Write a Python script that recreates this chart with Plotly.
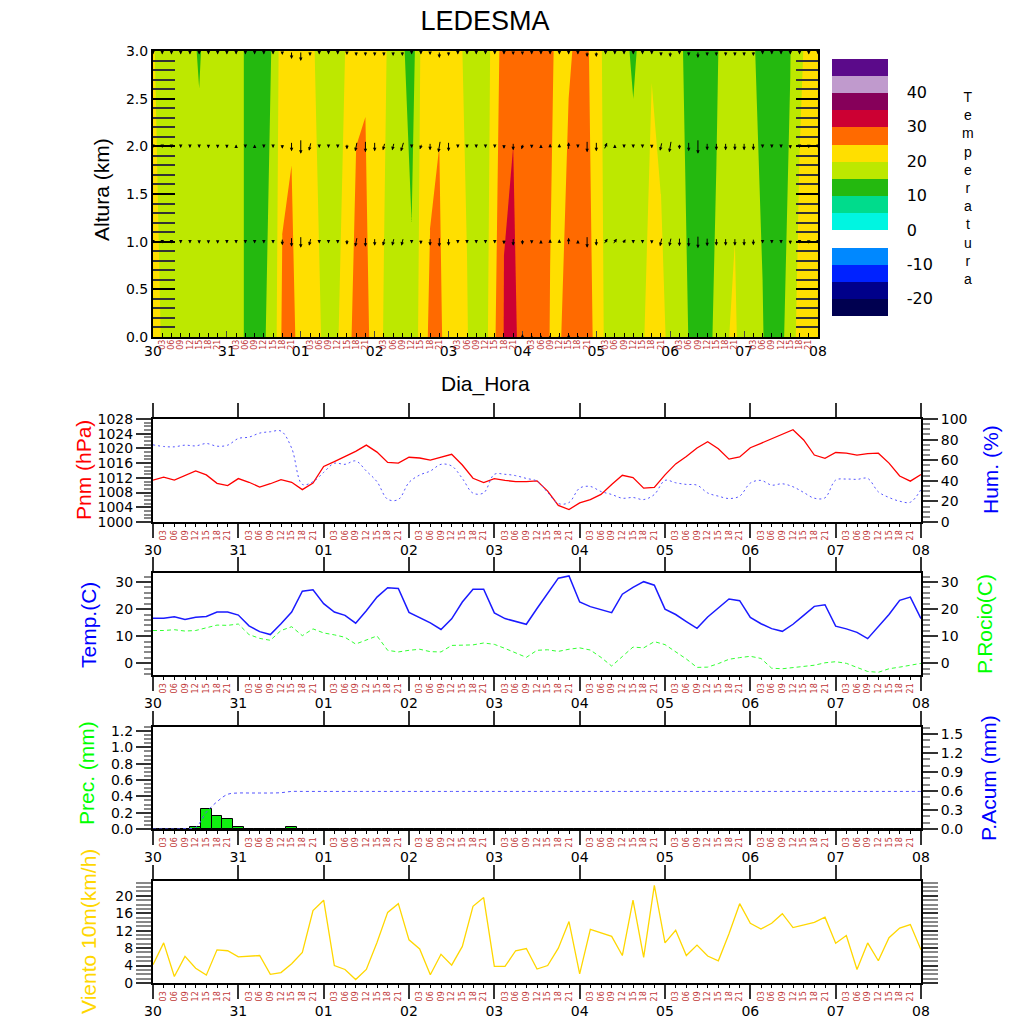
#!/usr/bin/env python3
"""
Meteograma LEDESMA

Corte tiempo-altura de temperatura (0-3 km) con viento, y debajo las series
de superficie: presion/humedad, temperatura/punto de rocio, precipitacion y
viento a 10 m.
"""

import numpy as np
import plotly.graph_objects as go

# ---------------------------------------------------------------- datos
day_labels = ["30", "31", "01", "02", "03", "04", "05", "06", "07", "08"]
hour_labels = ["03", "06", "09", "12", "15", "18", "21"]
hours = np.arange(73) * 3          # cada 3 h desde el dia 30 00 UTC

altura_km = [0.0, 3.0]
temp_0km = [21.0, 19.8, 18.5, 18.0, 17.5, 17.0, 17.5, 18.0, 17.0, 16.0,
            14.8, 13.5, 14.7, 16.2, 26.0, 26.5, 22.8, 21.5, 20.2, 19.2,
            19.8, 22.0, 28.0, 27.0, 22.0, 19.8, 18.5, 17.5, 17.0, 21.3,
            26.2, 26.0, 22.7, 21.5, 20.2, 18.2, 18.4, 24.5, 30.2, 31.0,
            28.5, 27.5, 26.5, 24.9, 24.5, 27.0, 28.0, 26.5, 24.0, 19.0,
            17.5, 17.0, 18.5, 19.6, 21.6, 20.5, 19.5, 17.0, 14.9, 13.5,
            14.2, 15.6, 19.5, 20.8, 17.0, 16.0, 15.3, 12.3, 14.5, 16.0,
            22.7, 23.0, 22.5]
temp_3km = [20.3, 18.8, 18.0, 17.5, 15.8, 14.7, 16.2, 17.0, 16.5, 15.5,
            14.9, 13.0, 14.2, 15.2, 23.2, 24.0, 22.5, 20.5, 19.5, 18.5,
            19.2, 20.2, 23.5, 24.4, 22.5, 20.5, 18.8, 16.0, 12.0, 20.5,
            23.0, 24.5, 23.5, 20.5, 19.5, 18.5, 19.5, 20.5, 29.5, 29.5,
            28.0, 27.0, 26.5, 25.3, 24.5, 24.6, 25.6, 25.5, 23.0, 18.0,
            17.0, 16.0, 14.3, 16.2, 19.8, 19.5, 17.5, 15.5, 14.2, 12.5,
            13.0, 14.6, 16.5, 18.4, 16.5, 15.3, 13.8, 12.5, 13.5, 14.9,
            18.5, 22.2, 22.0]

# viento en altura (componentes, unidades de flecha)
wind_v_0km = [0] * 40 + [6, 4, 4, 4, 3, 6, 2] + [0] * 26
wind_u_0km = [0] * 73
wind_v_1km = [-1, -1, -2, -2, -3, -4, -4, -4, -2, -1,
              -1, -1, -1, -2, -7, -10, -12, -8, -2, -2,
              -3, -6, -10, -10, -8, -8, -8, -8, -2, -5,
              -8, -10, -8, -2, -1, -1, -1, -2, -5, -8,
              -6, -4, 3, 5, 5, 8, 1, -12, -8, 6,
              6, 5, -1, -1, -4, -9, -9, -9, -10, -13,
              -9, -8, -8, -8, -8, -7, -2, -1, -2, -5,
              -2, -4, -1]
wind_u_1km = [0] * 17 + [-2] + [0] * 4 + [-2, 0, 0, -2, -2, -2] + [0] * 21 + \
             [4, 4, 3, 0, 0, 0, -2, -2] + [0] * 16
wind_v_2km = [-1, -1, -1, -2, -2, -3, -4, -4, -4, 1,
              -1, 1, -1, -1, -5, -10, -15, -9, -1, -1,
              -2, -6, -10, -12, -10, -8, -8, -10, -1, -6,
              -8, -12, -10, -1, -1, -1, -1, -1, -5, -8,
              -6, -4, 1, 5, 5, 8, -1, -12, -10, 7,
              2, -1, -1, -1, -4, -9, -12, -6, -10, -15,
              -8, -8, -8, -8, -8, -8, -3, -1, -1, -5,
              -1, -4, -2]
wind_u_2km = [0] * 17 + [-2] + [0] * 4 + [-2, 0, 0, -2, -2, -3, 0, -2, 0, -2] + \
             [0] * 8 + [-2] + [0] * 8 + [3] + [0] * 5 + [-2, -2] + [0] * 16
wind_v_3km = [-1, -1, -1, -1, -1, -2, -2, -2, -2, -1,
              -1, -1, -1, -1, -4, -8, -10, -5, -1, -1,
              -2, -4, -5, -5, -5, -5, -5, -5, -1, -3,
              -4, -7, -5, -1, -1, -1, -1, -1, -3, -4,
              -4, -2, -1, -1, -1, -1, -1, -6, -6, -2,
              -2, -2, -2, -2, -3, -5, -6, -3, -5, -7,
              -5, -5, -5, -5, -5, -5, -2, -1, -1, -3,
              -1, -3, -2]
wind_u_3km = [0] * 73

pnm = [1011.4, 1012.2, 1011.4, 1012.7, 1013.9, 1012.8, 1010.5, 1009.9,
       1011.8, 1010.8, 1009.5, 1010.4, 1011.5, 1010.8, 1008.8, 1010.6,
       1015.1, 1016.4, 1017.8, 1019.2, 1020.9, 1019.0, 1016.2, 1016.0,
       1017.6, 1017.4, 1016.8, 1017.6, 1018.4, 1015.5, 1011.9, 1010.7,
       1011.8, 1011.3, 1011.0, 1011.0, 1011.2, 1008.4, 1004.5, 1003.4,
       1005.2, 1006.1, 1007.5, 1010.2, 1012.7, 1012.1, 1009.2, 1009.4,
       1012.8, 1015.8, 1017.8, 1020.1, 1021.8, 1019.9, 1017.1, 1017.7,
       1020.2, 1021.4, 1022.6, 1024.0, 1025.1, 1022.3, 1018.2, 1017.3,
       1018.9, 1018.7, 1018.2, 1018.6, 1018.7, 1016.0, 1012.5, 1011.1,
       1012.9]
humedad = [74.9, 73.3, 73.0, 74.6, 73.9, 76.2, 73.6, 74.6,
           81.1, 82.4, 86.3, 87.6, 88.3, 71.7, 36.5, 39.1,
           48.2, 57.0, 56.0, 59.3, 49.5, 39.1, 22.1, 21.8,
           38.4, 45.6, 49.5, 56.0, 54.4, 42.3, 28.0, 28.3,
           46.3, 46.3, 45.0, 42.3, 39.7, 28.7, 17.9, 18.9,
           32.9, 34.5, 29.6, 26.7, 23.1, 23.8, 21.8, 26.7,
           40.4, 38.1, 36.5, 35.8, 28.2, 25.1, 22.8, 25.1,
           37.8, 40.4, 35.8, 37.1, 34.2, 28.7, 23.1, 23.5,
           40.7, 41.7, 41.4, 42.3, 29.3, 23.8, 20.2, 19.2,
           31.6]
temperatura = [16.6, 16.6, 17.2, 16.2, 17.0, 17.3, 18.9, 18.9,
               17.8, 13.8, 11.7, 10.6, 14.6, 18.9, 26.6, 27.1,
               22.0, 18.9, 17.7, 14.8, 19.4, 24.4, 27.9, 27.6,
               18.8, 17.0, 14.9, 12.5, 16.4, 22.6, 27.3, 27.3,
               18.6, 16.5, 15.4, 14.4, 20.2, 25.8, 31.4, 32.2,
               22.6, 20.9, 19.8, 18.7, 25.5, 28.0, 30.1, 28.8,
               20.0, 18.0, 15.4, 12.9, 17.1, 20.4, 23.7, 23.1,
               16.9, 14.6, 12.8, 11.8, 14.4, 17.7, 21.0, 21.6,
               13.7, 12.7, 11.4, 9.1, 13.7, 18.0, 23.2, 24.4,
               16.5]
rocio = [12.1, 12.1, 12.4, 11.9, 12.1, 13.0, 14.1, 14.0,
         14.5, 10.6, 9.2, 8.5, 12.1, 13.5, 10.2, 12.7,
         11.2, 10.5, 9.6, 7.1, 8.7, 10.1, 4.8, 4.2,
         4.8, 5.2, 4.3, 4.2, 6.6, 6.8, 6.8, 7.5,
         7.0, 5.5, 3.9, 2.2, 4.8, 5.0, 4.4, 5.2,
         5.7, 4.9, 2.2, -1.0, 2.5, 6.0, 5.7, 8.0,
         6.9, 4.4, 1.6, -1.5, -1.4, -0.1, 1.5, 2.1,
         2.6, 1.8, -1.8, -2.0, -1.6, -1.1, -0.7, 0.2,
         0.6, 0.0, -1.4, -3.0, -3.3, -2.0, -1.4, -0.6,
         0.0]
precip = [0.0, 0.0, 0.0, 0.005, 0.02, 0.24, 0.165, 0.118,
          0.02, 0.0, 0.0, 0.0, 0.005, 0.02, 0.0, 0.0] + [0.0] * 57
viento10 = [4.2, 9.2, 1.5, 6.1, 3.4, 1.8, 7.6, 7.4,
            6.0, 6.1, 6.3, 2.0, 2.4, 4.4, 7.0, 16.6,
            19.0, 4.0, 3.1, 0.8, 3.1, 9.3, 16.2, 18.2,
            9.9, 7.8, 1.9, 6.6, 4.1, 8.4, 17.6, 19.6,
            3.8, 3.8, 7.4, 7.9, 3.2, 4.0, 8.0, 14.1,
            2.1, 12.3, 11.5, 10.7, 6.3, 19.0, 5.9, 22.4,
            9.2, 12.1, 6.3, 8.7, 6.2, 5.1, 11.3, 18.2,
            13.7, 12.4, 13.7, 15.9, 12.7, 13.3, 13.9, 15.1,
            9.1, 10.9, 3.1, 9.2, 5.1, 10.4, 12.6, 13.4,
            7.6]

# escala de colores de temperatura (cada 5 C, de <-25 a >50)
temp_colors = ["#ffffff", "#000050", "#00008a", "#0022ff", "#0088ff",
               "#ffffff", "#00f5e1", "#00dc8c", "#24b90f", "#bde800",
               "#ffdf00", "#ff6a00", "#cc0033", "#86005a", "#c09acd",
               "#5b0a8a", "#ffffff"]
cbar_ticks = [-20, -10, 0, 10, 20, 30, 40]

# ---------------------------------------------------------------- layout
W = H = 1024
OFF = 8            # margen por defecto del <body> de la pagina
X0, X1_TOP, X1 = 153, 818, 921
PANELS = [(51, 337), (419, 522), (573, 675), (727, 829), (881, 983)]
FONT = "Liberation Sans, Arial, sans-serif"
TICKFONT = dict(family="DejaVu Sans, sans-serif", size=14, color="black")
HOURFONT = dict(family="DejaVu Sans, sans-serif", size=8, color="#c03535")


def fx(p):
    return (p - OFF) / W


def fy(p):
    return 1 - (p - OFF) / H


def ydom(k):
    top, bot = PANELS[k]
    return [fy(bot), fy(top)]


day_vals = [d * 24 for d in range(len(day_labels))]
hour_vals = [d * 24 + int(h) for d in range(9) for h in hour_labels]
hour_text = [h for d in range(9) for h in hour_labels]


def day_axis(right, anchor, top=False):
    ax = dict(domain=[fx(X0), fx(right)], anchor=anchor, range=[0, 216],
              tickmode="array", tickvals=day_vals, ticktext=day_labels,
              showline=True, linewidth=2, linecolor="black",
              showgrid=False, zeroline=False,
              tickfont=dict(family="DejaVu Sans, sans-serif", size=14, color="black"))
    if top:
        ax.update(ticks="inside", ticklen=6, tickwidth=1, mirror=True, ticklabelstandoff=0)
    else:
        ax.update(ticks="outside", ticklen=14, tickwidth=1.5, tickcolor="#333",
                  mirror="allticks", ticklabelstandoff=0)
    return ax


def hour_axis(base, anchor, top=False):
    return dict(overlaying=base, anchor=anchor, side="bottom", range=[0, 216],
                tickmode="array", tickvals=hour_vals, ticktext=hour_text,
                tickangle=-90, ticks="inside" if top else "outside", ticklen=4,
                tickcolor="black", tickfont=HOURFONT, showline=False,
                showgrid=False, zeroline=False)


def val_axis(k, rng, dtick, mdtick, anchor, side="left", overlay=None, fmt=None, mirror=False):
    ax = dict(range=rng, dtick=dtick, tick0=0, side=side, anchor=anchor,
              ticks="outside", ticklen=15, tickwidth=1.5, tickcolor="#333",
              minor=dict(dtick=mdtick, tick0=0, ticks="outside", ticklen=7, tickcolor="#888"),
              showline=True, linewidth=2, linecolor="black", showgrid=False,
              zeroline=False, tickfont=TICKFONT)
    if overlay:
        ax["overlaying"] = overlay
    else:
        ax["domain"] = ydom(k)
    if fmt:
        ax["tickformat"] = fmt
    if mirror:
        ax["mirror"] = "allticks"
    return ax


fig = go.Figure()

# --- panel 1: temperatura tiempo-altura
fig.add_trace(go.Contour(
    x=hours, y=altura_km, z=[temp_0km, temp_3km],
    autocontour=False,
    contours=dict(start=-25, end=50, size=5, coloring="fill", showlines=False),
    line=dict(width=0, smoothing=0),
    colorscale=[[k / 16, c] for k, c in enumerate(temp_colors)],
    colorbar=dict(x=fx(832), xanchor="left", xpad=0, y=fy(187), yanchor="middle",
                  ypad=0, len=275.2 / H, lenmode="fraction",
                  thickness=56, thicknessmode="pixels", outlinewidth=0,
                  tickmode="array", tickvals=cbar_ticks,
                  ticktext=[str(v) for v in cbar_ticks],
                  ticks="outside", ticklen=16, tickcolor="rgba(0,0,0,0)",
                  tickfont=dict(family="DejaVu Sans, sans-serif", size=16, color="black")),
    xaxis="x", yaxis="y", hoverinfo="skip"))
fig.add_trace(go.Scatter(x=[], y=[], xaxis="x2", yaxis="y", showlegend=False))

# flechas de viento (longitud minima visible de 3.5 px)
px_h = (X1_TOP - X0) / 216
px_km = (PANELS[0][1] - PANELS[0][0]) / 3
for lvl, us, vs, centred in [(0.0, wind_u_0km, wind_v_0km, True),
                             (1.0, wind_u_1km, wind_v_1km, True),
                             (2.0, wind_u_2km, wind_v_2km, True),
                             (3.0, wind_u_3km, wind_v_3km, False)]:
    for t, u, v in zip(hours, us, vs):
        mag = float(np.hypot(u, v))
        if mag == 0:
            continue
        k = max(mag, 3.5) / mag
        du, dv = u * k, v * k
        f = 0.5 if centred else 1.0
        fig.add_annotation(x=t + f * du / px_h, y=lvl + f * dv / px_km,
                           ax=-du, ay=dv, xref="x", yref="y", text="",
                           showarrow=True, arrowhead=2, arrowsize=0.7,
                           arrowwidth=1, arrowcolor="black", standoff=0)

# --- panel 2: presion y humedad
fig.add_trace(go.Scatter(x=hours, y=pnm, mode="lines", line=dict(color="#ff0000", width=1.3),
                         xaxis="x3", yaxis="y2"))
fig.add_trace(go.Scatter(x=hours, y=humedad, mode="lines",
                         line=dict(color="#5555ff", width=1, dash="2px,3px", shape="spline"),
                         xaxis="x3", yaxis="y3"))
fig.add_trace(go.Scatter(x=[], y=[], xaxis="x4", yaxis="y2", showlegend=False))

# --- panel 3: temperatura y punto de rocio
fig.add_trace(go.Scatter(x=hours, y=temperatura, mode="lines", line=dict(color="#1a1aff", width=1.5),
                         xaxis="x5", yaxis="y4"))
fig.add_trace(go.Scatter(x=hours, y=rocio, mode="lines",
                         line=dict(color="#33ff33", width=1, dash="4px,3px"),
                         xaxis="x5", yaxis="y5"))
fig.add_trace(go.Scatter(x=[], y=[], xaxis="x6", yaxis="y4", showlegend=False))

# --- panel 4: precipitacion
fig.add_trace(go.Bar(x=hours, y=precip, width=3,
                     marker=dict(color="#11ee11", line=dict(color="black", width=1)),
                     xaxis="x7", yaxis="y6"))
fig.add_trace(go.Scatter(x=hours, y=np.cumsum(precip), mode="lines",
                         line=dict(color="#5555ff", width=1, dash="3px,3px", shape="spline"),
                         xaxis="x7", yaxis="y7"))
fig.add_trace(go.Scatter(x=[], y=[], xaxis="x8", yaxis="y6", showlegend=False))

# --- panel 5: viento 10 m
fig.add_trace(go.Scatter(x=hours, y=viento10, mode="lines", line=dict(color="#ffd700", width=1.3),
                         xaxis="x9", yaxis="y8"))
fig.add_trace(go.Scatter(x=[], y=[], xaxis="x10", yaxis="y8", showlegend=False))

fig.update_layout(
    width=W, height=H, margin=dict(l=0, r=0, t=0, b=0, autoexpand=False),
    paper_bgcolor="white", plot_bgcolor="white", showlegend=False,
    font=dict(family=FONT, color="black"),
    title=dict(text="LEDESMA", x=fx(485), y=fy(21), xanchor="center", yanchor="middle",
               xref="paper", font=dict(size=27, family=FONT, color="black")),
    bargap=0,
    xaxis=day_axis(X1_TOP, "y", top=True),
    xaxis2=hour_axis("x", "y", top=True),
    yaxis=dict(domain=ydom(0), anchor="x", range=[0, 3], dtick=0.5, tickformat=".1f",
               ticks="inside", ticklen=22, tickwidth=1.5, tickcolor="black",
               minor=dict(dtick=0.1, ticks="inside", ticklen=10, tickcolor="#333"),
               showline=True, linewidth=2, linecolor="black", mirror="allticks",
               showgrid=False, zeroline=False, tickfont=TICKFONT),
    xaxis3=day_axis(X1, "y2"),
    xaxis4=hour_axis("x3", "y2"),
    yaxis2=val_axis(1, [1000, 1028], 4, 1, "x3"),
    yaxis3=val_axis(1, [0, 100], 20, 5, "x3", side="right", overlay="y2"),
    xaxis5=day_axis(X1, "y4"),
    xaxis6=hour_axis("x5", "y4"),
    yaxis4=val_axis(2, [-4.3, 33.3], 10, 2, "x5"),
    yaxis5=val_axis(2, [-4.3, 33.3], 10, 2, "x5", side="right", overlay="y4"),
    xaxis7=day_axis(X1, "y6"),
    xaxis8=hour_axis("x7", "y6"),
    yaxis6=val_axis(3, [0, 1.25], 0.2, 0.05, "x7", fmt=".1f"),
    yaxis7=val_axis(3, [0, 1.61], 0.3, 0.1, "x7", side="right", overlay="y6", fmt=".1f"),
    xaxis9=day_axis(X1, "y8"),
    xaxis10=hour_axis("x9", "y8"),
    yaxis8=val_axis(4, [0, 23.4], 4, 1, "x9", mirror=True),
)

# titulos de ejes
titles = [
    ("Altura (km)", 101, 190, "black", -90),
    ("Dia_Hora", 485, 384, "black", 0),
    ("Pnm (hPa)", 83, 470, "#ff0000", -90),
    ("Hum. (%)", 990, 470, "#0000ff", -90),
    ("Temp.(C)", 88, 625, "#0000ff", -90),
    ("P.Rocio(C)", 984, 624, "#00ff00", -90),
    ("Prec. (mm)", 86, 773, "#00ff00", -90),
    ("P.Acum (mm)", 988, 778, "#0000ff", -90),
    ("Viento 10m(km/h)", 88, 932, "#ffd700", -90),
]
for text, px, py, col, ang in titles:
    fig.add_annotation(text=text, x=fx(px), y=fy(py), xref="paper", yref="paper",
                       xanchor="center", yanchor="middle", showarrow=False,
                       textangle=ang, font=dict(family=FONT, size=21, color=col))

fig.add_annotation(text="<br>".join("Temperatura"), x=fx(968), y=fy(188),
                   xref="paper", yref="paper", xanchor="center", yanchor="middle",
                   showarrow=False, font=dict(family=FONT, size=14, color="black"))

fig.write_html("out.html")
